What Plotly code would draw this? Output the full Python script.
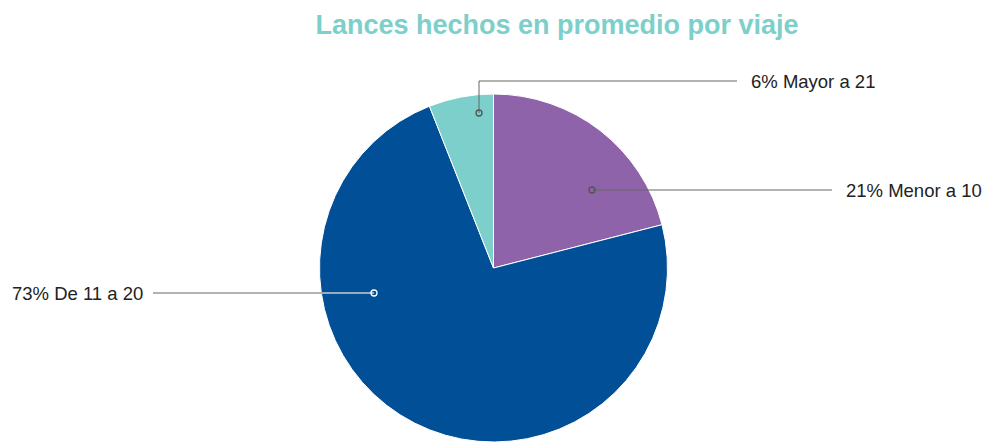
import plotly.graph_objects as go

# Datos del gráfico
categorias = ["Menor a 10", "De 11 a 20", "Mayor a 21"]
porcentajes = [21, 73, 6]
colores = ["#8e63a9", "#004f97", "#7ccfca"]

W, H = 987, 442

fig = go.Figure()

# Pie (starts at 12 o'clock, clockwise)
fig.add_trace(go.Pie(
    labels=categorias,
    values=porcentajes,
    sort=False,
    direction="clockwise",
    rotation=0,
    marker=dict(colors=colores, line=dict(color="white", width=1)),
    textinfo="none",
    hoverinfo="label+percent",
    showlegend=False,
    domain=dict(x=[0, 1], y=[0, (H - 94) / H]),
))

# Leader lines for the labels (pixel positions on a hidden axis)
# "inner" = colour of the part of the line drawn over the slice
guias = {
    "Mayor a 21": dict(x=[479, 479, 737], y=[113, 81, 81], tx=749, anchor="left",
                       inner="#555555", edge=None),
    "Menor a 10": dict(x=[592, 832], y=[190, 190], tx=844, anchor="left",
                       inner="#555555", edge=None),
    "De 11 a 20": dict(x=[374, 153], y=[293, 293], tx=145, anchor="right",
                       inner="#ffffff", edge=322),
}

for cat, pct in zip(categorias, porcentajes):
    g = guias[cat]
    path = "M " + " L ".join(f"{x},{y}" for x, y in zip(g["x"], g["y"]))
    fig.add_shape(type="path", path=path, xref="x", yref="y", layer="above",
                  line=dict(color="#666666", width=1))
    x0, y0 = g["x"][0], g["y"][0]
    if g["edge"] is not None:
        fig.add_shape(type="line", xref="x", yref="y", layer="above",
                      x0=x0, x1=g["edge"], y0=y0, y1=y0,
                      line=dict(color=g["inner"], width=1))
    fig.add_shape(type="circle", xref="x", yref="y", layer="above",
                  x0=x0 - 3, x1=x0 + 3, y0=y0 - 3, y1=y0 + 3,
                  fillcolor="rgba(0,0,0,0)", line=dict(color=g["inner"], width=1.3))
    fig.add_annotation(
        x=g["tx"], y=g["y"][-1],
        xref="x", yref="y",
        text=f"{pct}% {cat}",
        showarrow=False,
        xanchor=g["anchor"], yanchor="middle",
        font=dict(family="Liberation Sans, Arial, sans-serif", size=18.5, color="#222222"),
    )

fig.update_layout(
    title=dict(
        text="<b>Lances hechos en promedio por viaje</b>",
        x=557 / W, xanchor="center",
        y=1 - 25 / H, yanchor="middle",
        font=dict(family="Liberation Sans, Arial, sans-serif", size=27, color="#7ccfca"),
    ),
    xaxis=dict(range=[0, W], visible=False, domain=[0, 1], fixedrange=True),
    yaxis=dict(range=[H, 0], visible=False, domain=[0, 1], fixedrange=True),
    width=W,
    height=H,
    margin=dict(l=0, r=0, t=0, b=0),
    paper_bgcolor="white",
    plot_bgcolor="rgba(0,0,0,0)",
)

fig.write_html("out.html", config={"displayModeBar": False},
               post_script="document.body.style.margin='0';document.body.style.padding='0';")
